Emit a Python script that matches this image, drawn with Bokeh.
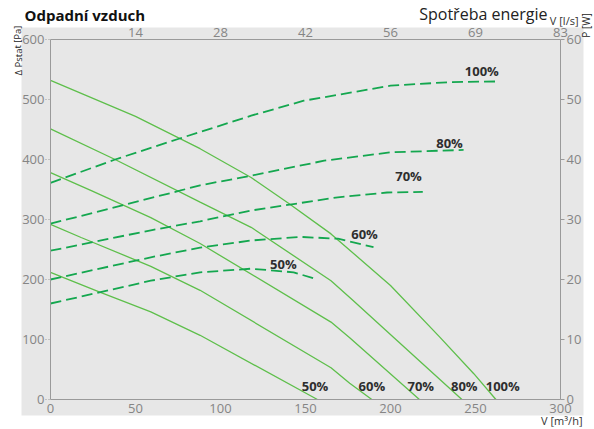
from bokeh.plotting import figure
from bokeh.models import Range1d, LinearAxis, FixedTicker, Label, BoxAnnotation
from bokeh.embed import file_html
from bokeh.resources import INLINE

# ---------------- data ----------------
flow_ticks = [0, 50, 100, 150, 200, 250, 300]          # V [m3/h]
ls_ticks = [50, 100, 150, 200, 250, 300]
ls_labels = ["14", "28", "42", "56", "69", "83"]       # V [l/s]
pa_ticks = [0, 100, 200, 300, 400, 500, 600]           # dP stat [Pa]
w_ticks = [0, 10, 20, 30, 40, 50, 60]                  # P [W]
speeds = ["100%", "80%", "70%", "60%", "50%"]

# static pressure curves [Pa]
p100_x = [0, 50, 88, 118, 140, 165, 200, 229, 249, 262]
p100_y = [532, 472, 418, 370, 327, 276, 190, 104, 43, 0]
p80_x = [0, 38, 88, 118, 165, 178, 204, 242]
p80_y = [451, 400, 329, 287, 198, 165, 98, 0]
p70_x = [0, 24, 59, 88, 165, 176, 217]
p70_y = [378, 348, 303, 260, 129, 103, 0]
p60_x = [0, 18, 59, 88, 165, 176, 189]
p60_y = [292, 270, 222, 182, 53, 27, 0]
p50_x = [0, 29, 59, 88, 157]
p50_y = [212, 179, 146, 107, 0]

# power consumption curves [W]
w100_x = [0, 38, 76, 118, 149, 200, 235, 262]
w100_y = [36.1, 40.0, 43.5, 47.3, 49.8, 52.3, 52.9, 53.0]
w80_x = [0, 76, 88, 118, 161, 200, 243]
w80_y = [29.3, 34.8, 35.7, 37.3, 39.8, 41.2, 41.6]
w70_x = [0, 59, 88, 118, 169, 198, 219]
w70_y = [24.8, 28.2, 29.7, 31.5, 33.7, 34.5, 34.6]
w60_x = [0, 59, 88, 118, 147, 169, 190]
w60_y = [20.0, 23.7, 25.3, 26.5, 27.1, 26.8, 25.4]
w50_x = [0, 59, 88, 118, 143, 157]
w50_y = [16.0, 19.8, 21.2, 21.8, 21.2, 20.0]

pressure = [(p100_x, p100_y), (p80_x, p80_y), (p70_x, p70_y), (p60_x, p60_y), (p50_x, p50_y)]
power = [(w100_x, w100_y), (w80_x, w80_y), (w70_x, w70_y), (w60_x, w60_y), (w50_x, w50_y)]

# label anchor positions (layout)
p_label_pos = [(266, 23), (243.4, 23), (217.8, 23), (189, 23), (155.6, 23)]
w_label_pos = [(253.7, 54.7), (234.7, 42.8), (210.6, 37.3), (184.7, 27.6), (137, 22.6)]

# ---------------- layout (canvas pixels) ----------------
W, H = 594, 429
PX_L, PX_R, PX_T, PX_B = 50, 560, 39, 399     # where the axes sit
X0, X1, Y0, Y1, P1 = 0, 300, 0, 600, 60
kx = (PX_R - PX_L) / (X1 - X0)
ky = (PX_B - PX_T) / (Y1 - Y0)
FONT = "Open Sans"
GRAY_BG = "#e7e7e7"
AXIS_C = "#9a9a9a"
TICK_C = "#858585"
SOLID_C = "#5ebf4b"
DASH_C = "#14a74f"

x_range = Range1d(X0 - PX_L / kx, X1 + (W - PX_R) / kx)
y_range = Range1d(Y0 - (H - PX_B) / ky, Y1 + PX_T / ky)
pf = P1 / Y1
p = figure(width=W, height=H, x_range=x_range, y_range=y_range,
           output_backend="svg", toolbar_location=None,
           min_border=0, min_border_left=0, min_border_right=0,
           min_border_top=0, min_border_bottom=0,
           background_fill_color="white", border_fill_color="white",
           outline_line_color=None, x_axis_type=None, y_axis_type=None)
p.extra_y_ranges = {"power": Range1d(y_range.start * pf, y_range.end * pf)}

# grey panel behind the chart (canvas px -> frame screen units)
p.add_layout(BoxAnnotation(left=21, right=583, top=H - 27, bottom=H - 415,
                           left_units="screen", right_units="screen",
                           top_units="screen", bottom_units="screen",
                           fill_color=GRAY_BG, fill_alpha=1, line_color=None,
                           level="underlay"))


def make_axis(ticks, tick_out, standoff, bounds, loc, **kw):
    ax = LinearAxis(fixed_location=loc, bounds=bounds, **kw)
    ax.ticker = FixedTicker(ticks=ticks)
    ax.axis_line_color = AXIS_C
    ax.major_tick_out = tick_out
    ax.major_tick_in = 0
    ax.minor_tick_line_color = None
    ax.major_tick_line_color = AXIS_C
    ax.major_label_text_font = FONT
    ax.major_label_text_font_size = "13px"
    ax.major_label_text_color = TICK_C
    ax.major_label_standoff = standoff
    return ax


xb = make_axis(flow_ticks, 0, 4, (X0, X1), Y0)
p.add_layout(xb, "below")
yl = make_axis(pa_ticks, 5, 1, (Y0, Y1), X0)
yl.major_tick_line_dash = "1 2"
p.add_layout(yl, "left")
xt = make_axis(ls_ticks, 0, 3, (X0, X1), Y1)
xt.major_label_overrides = {t: s for t, s in zip(ls_ticks, ls_labels)}
p.add_layout(xt, "above")
yr = make_axis(w_ticks, 4, 2, (0, P1), X1, y_range_name="power")
p.add_layout(yr, "right")

# dotted grid inside the plotting area
gx = p.segment(x0=flow_ticks[1:-1], y0=Y0, x1=flow_ticks[1:-1], y1=Y1,
               line_color="#a3a3a3", line_dash="1 3", line_width=1, level="underlay")
gy = p.segment(x0=X0, y0=pa_ticks[1:-1], x1=X1, y1=pa_ticks[1:-1],
               line_color="#a3a3a3", line_dash="1 3", line_width=1, level="underlay")

for (xs, ys) in pressure:
    p.line(xs, ys, line_color=SOLID_C, line_width=1.3)
for (xs, ys) in power:
    p.line(xs, ys, y_range_name="power", line_color=DASH_C, line_width=1.8, line_dash="11 5")

for s, (lx, ly) in zip(speeds, p_label_pos):
    p.add_layout(Label(x=lx, y=ly, text=s, text_align="center", text_baseline="middle",
                       text_font=FONT, text_font_style="bold", text_font_size="13px",
                       text_color="#2e2e2e"))
for s, (lx, ly) in zip(speeds, w_label_pos):
    p.add_layout(Label(x=lx, y=ly, text=s, y_range_name="power", text_align="center",
                       text_baseline="middle", text_font=FONT, text_font_style="bold",
                       text_font_size="13px", text_color="#2e2e2e"))


def canvas_label(x, y, text, **kw):
    p.add_layout(Label(x=x, y=H - y, x_units="screen", y_units="screen", text=text,
                       text_font=FONT, **kw))


canvas_label(24, 4, "Odpadní vzduch", text_baseline="top", text_font_size="15px",
             text_font_style="bold", text_color="#111111")
canvas_label(547, 13, "Spotřeba energie", text_baseline="alphabetic", text_align="right",
             text_font_size="16px", text_color="#222222")
canvas_label(578, 20, "V [l/s]", text_baseline="alphabetic", text_align="right",
             text_font_size="11px", text_color="#333333")
canvas_label(582, 420, "V [m³/h]", text_baseline="alphabetic", text_align="right",
             text_font_size="11px", text_color="#333333")
canvas_label(17.5, 50, "Δ Pstat [Pa]", text_baseline="middle", text_align="center",
             text_font_size="9.5px", text_color="#222222", angle=1.5708)
canvas_label(585.5, 25, "P [W]", text_baseline="middle", text_align="center",
             text_font_size="10px", text_color="#222222", angle=1.5708)

open("out.html", "w").write(file_html(p, INLINE))
